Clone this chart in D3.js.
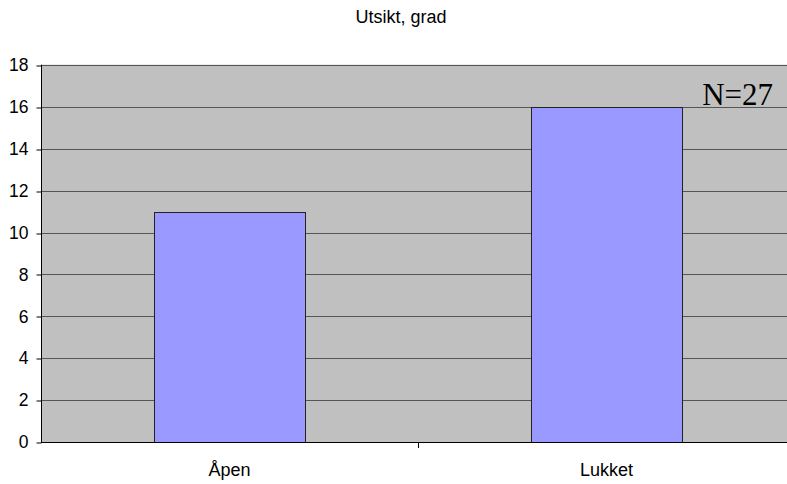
<!DOCTYPE html>
<html>
<head>
<meta charset="utf-8">
<script src="https://cdn.jsdelivr.net/npm/d3@7"></script>
<style>
  html, body { margin: 0; padding: 0; background: #fff; }
  svg { display: block; }
</style>
</head>
<body>
<svg id="chart" width="787" height="484"></svg>
<script>
// Chart data
const categories = ["Åpen", "Lukket"];
const values = [11, 16];
const yTicks = [0, 2, 4, 6, 8, 10, 12, 14, 16, 18];
const title = "Utsikt, grad";
const note = "N=27";

const svg = d3.select("#chart");
const plotLeft = 41, plotRight = 795, plotTop = 64.7, plotBottom = 442.3;
const sans = "Liberation Sans, Arial, sans-serif";

const x = d3.scaleBand().domain(categories).range([plotLeft, plotRight]).paddingInner(0).paddingOuter(0);
const y = d3.scaleLinear().domain([0, 18]).range([plotBottom, plotTop]);

// Plot background
svg.append("rect")
  .attr("x", plotLeft).attr("y", plotTop)
  .attr("width", plotRight - plotLeft).attr("height", plotBottom - plotTop)
  .attr("fill", "#C0C0C0");

// Gridlines
svg.append("g").selectAll("line").data(yTicks.filter(d => d > 0)).join("line")
  .attr("x1", plotLeft).attr("x2", plotRight)
  .attr("y1", d => Math.round(y(d)) + 0.5).attr("y2", d => Math.round(y(d)) + 0.5)
  .attr("stroke", "#555").attr("stroke-width", 1);

// Bars
const bw = x.bandwidth() * 0.4;
svg.append("g").selectAll("rect").data(categories).join("rect")
  .attr("x", (d) => Math.round(x(d) + (x.bandwidth() - bw) / 2) + 0.5)
  .attr("y", (d, i) => Math.round(y(values[i])) + 0.5)
  .attr("width", Math.round(bw))
  .attr("height", (d, i) => Math.round(y(0)) - Math.round(y(values[i])))
  .attr("fill", "#9999FF")
  .attr("stroke", "#222")
  .attr("stroke-width", 1);

// Y axis
const yAxis = d3.axisLeft(y).tickValues(yTicks).tickSize(5).tickPadding(8);
const gy = svg.append("g").attr("transform", `translate(${Math.round(plotLeft) + 0.5},0)`).call(yAxis);
gy.select(".domain").attr("stroke", "#000").attr("d", `M0,${plotTop}V${plotBottom}`);
gy.selectAll(".tick line").attr("stroke", "#000")
  .attr("transform", function(d) { return `translate(0,${Math.round(y(d)) + 0.5 - y(d)})`; });
gy.selectAll(".tick text")
  .attr("font-family", sans)
  .attr("font-size", "17.5px").attr("fill", "#000");

// X axis
const xAxis = d3.axisBottom(x).tickSize(0).tickPadding(21);
const gx = svg.append("g").attr("transform", `translate(0,${Math.round(plotBottom) + 0.5})`).call(xAxis);
gx.select(".domain").attr("stroke", "#000").attr("d", `M${plotLeft},0H${plotRight}`);
gx.selectAll(".tick text")
  .attr("font-family", sans)
  .attr("font-size", "18px").attr("fill", "#000");

// Category separators on the x axis
svg.append("g").selectAll("line").data(categories.slice(1)).join("line")
  .attr("x1", d => Math.round(x(d)) + 0.5).attr("x2", d => Math.round(x(d)) + 0.5)
  .attr("y1", Math.round(plotBottom)).attr("y2", Math.round(plotBottom) + 6)
  .attr("stroke", "#000");

// Title
svg.append("text")
  .attr("x", 401).attr("y", 23)
  .attr("text-anchor", "middle")
  .attr("font-family", sans)
  .attr("font-size", "18px")
  .text(title);

// Sample size note
svg.append("text")
  .attr("x", 773).attr("y", 105)
  .attr("text-anchor", "end")
  .attr("font-family", "Liberation Serif, Times New Roman, serif")
  .attr("font-size", "31px")
  .text(note);
</script>
</body>
</html>
